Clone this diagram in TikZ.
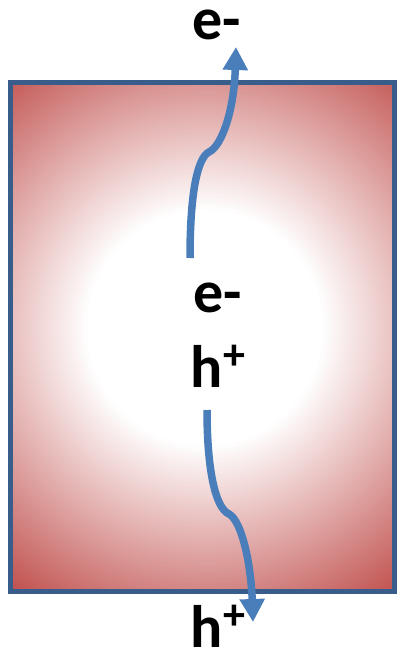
\documentclass[tikz,border=0pt]{standalone}
\usepackage{fontspec}
\setmainfont{Carlito}
\usetikzlibrary{arrows.meta}
\definecolor{bordc}{RGB}{56,93,138}
\definecolor{arrc}{RGB}{74,126,187}
\definecolor{redc}{RGB}{192,80,77}
\newcommand{\supplus}{{\fontsize{44}{44}\selectfont\raisebox{18pt}{+}}}
\tikzset{
  lbl/.style={anchor=base, inner sep=0pt, font=\bfseries\fontsize{60}{72}\selectfont},
  carrier/.style={draw=arrc, line width=7.5pt, -{Triangle[width=24pt,length=23pt]}},
  frame/.style={draw=bordc, line width=5pt}
}
\begin{document}
\begin{tikzpicture}[x=1pt,y=-1pt]
\useasboundingbox (0,0) rectangle (396,650);
% glowing body: concentric rings from red (outside) to white (centre)
\begin{scope}
  \clip (10,83) rectangle (394,591);
  \fill[redc] (10,83) rectangle (394,591);
  \foreach \r in {340,338,...,116} {
    \pgfmathsetmacro\p{min(100,max(0,(\r-118)/2.1))}
    \fill[redc!\p!white] (205,328) circle (\r);
  }
\end{scope}
\draw[frame] (10,83) rectangle (394,591);
% labels
\node[lbl] (etop) at (217,40) {e-};
\node[lbl] (emid) at (218,312) {e-};
\node[lbl] (hmid) at (218,387) {h\supplus};
\node[lbl] (hbot) at (218,647) {h\supplus};
% arrow end points
\coordinate (eS) at (190,258);
\coordinate (eK) at (209,152);
\coordinate (eE) at (236,47);
\coordinate (hS) at (207,410);
\coordinate (hK) at (229,514);
\coordinate (hE) at (253,622);
\draw[carrier] (eS) .. controls (190,195) and (197,158) .. (eK)
               .. controls (222,146) and (234,110) .. (eE);
\draw[carrier] (hS) .. controls (207,468) and (215,508) .. (hK)
               .. controls (242,521) and (251,565) .. (hE);
\end{tikzpicture}
\end{document}
